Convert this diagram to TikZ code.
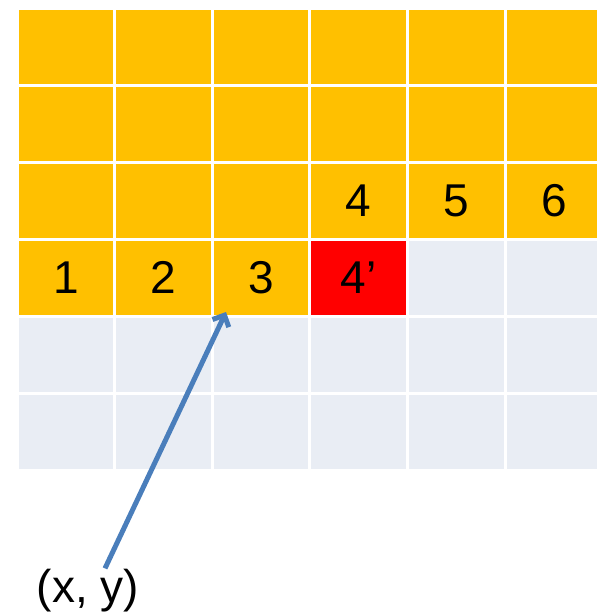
\documentclass[tikz,border=0pt]{standalone}
\usepackage{fontspec}
\setmainfont{Liberation Sans}
\usetikzlibrary{arrows.meta}
\definecolor{cellorange}{HTML}{FFC000}
\definecolor{cellgray}{HTML}{E9EDF4}
\definecolor{cellred}{HTML}{FF0000}
\definecolor{arrowblue}{HTML}{4A7EBB}
\tikzset{
    cell/.style={minimum width=94.6pt,minimum height=74pt,inner sep=0pt,
        font=\fontsize{46}{46}\selectfont},
}
\begin{document}
\begin{tikzpicture}[x=1pt,y=-1pt]
        \useasboundingbox (0,0) rectangle (597,614);
        \clip (0,0) rectangle (597,614);
        % cells: rows 1-3 filled
        \foreach \r in {1,2,3}
            \foreach \c in {1,...,6}
                \node[cell,fill=cellorange] (c-\r-\c) at ({17+97.6*(\c-0.5)},{8+77*(\r-0.5)}) {};
        % row 4
        \foreach \c/\col/\txt in {1/cellorange/1,2/cellorange/2,3/cellorange/3,4/cellred/4’,5/cellgray/,6/cellgray/}
            \node[cell,fill=\col] (c-4-\c) at ({17+97.6*(\c-0.5)},{8+77*3.5}) {\txt};
        % rows 5-6 empty
        \foreach \r in {5,6}
            \foreach \c in {1,...,6}
                \node[cell,fill=cellgray] (c-\r-\c) at ({17+97.6*(\c-0.5)},{8+77*(\r-0.5)}) {};
        % labels of the previous row
        \node[font=\fontsize{46}{46}\selectfont] (n4) at (c-3-4) {4};
        \node[font=\fontsize{46}{46}\selectfont] (n5) at (c-3-5) {5};
        \node[font=\fontsize{46}{46}\selectfont] (n6) at (c-3-6) {6};

        \node[font=\fontsize{46}{46}\selectfont,inner sep=0pt] (xy) at (88,591) {(x, y)};
        \coordinate (tip) at (226,312);
        \draw[arrowblue,line width=5pt,-{Straight Barb[length=9pt,width=18pt]}]
            ([xshift=17pt,yshift=1pt]xy.north) -- (tip);
\end{tikzpicture}
\end{document}
